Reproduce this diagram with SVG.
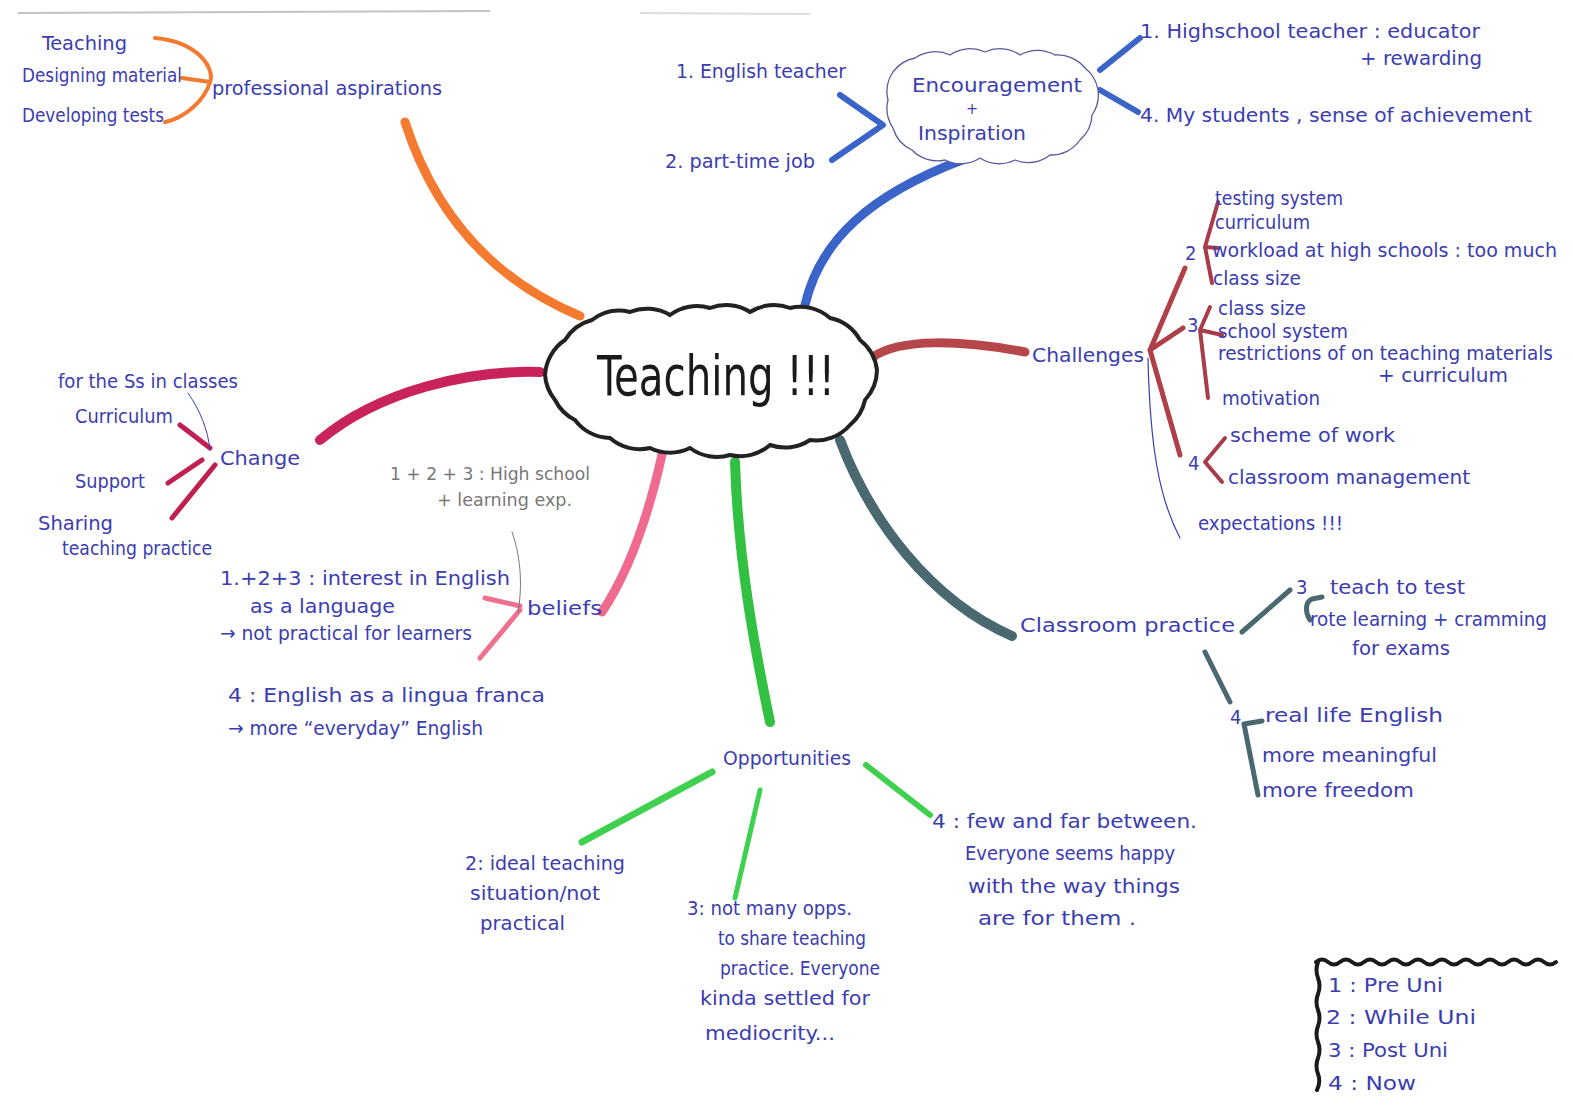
<svg xmlns="http://www.w3.org/2000/svg" width="1573" height="1111" viewBox="0 0 1573 1111">
<style>
.t{font-family:"Liberation Sans Narrow","DejaVu Sans Condensed","Liberation Sans",sans-serif;fill:#3b3db0;font-size:20px}
.g{font-family:"Liberation Sans Narrow","DejaVu Sans Condensed","Liberation Sans",sans-serif;fill:#777;font-size:17px}
.br{fill:none;stroke-linecap:round;stroke-linejoin:round}
.thin{fill:none;stroke-linecap:round}
</style>
<rect width="1573" height="1111" fill="#ffffff"/>
<g id="scan-edge">
<path d="M18,13 L490,11" stroke="#9a9a9a" stroke-width="2" opacity="0.6" fill="none"/>
<path d="M640,13 L810,14" stroke="#bbbbbb" stroke-width="2" opacity="0.5" fill="none"/>
</g>
<g id="connectors">
<path class="br" d="M405,122 Q450,262 580,316" stroke="#f47a30" stroke-width="9"/>
<path class="br" d="M805,305 C820,240 870,195 962,160" stroke="#3a64c8" stroke-width="9"/>
<path class="br" d="M873,357 C900,338 960,340 1025,352" stroke="#b5464a" stroke-width="9"/>
<path class="br" d="M540,372 C470,370 380,390 320,440" stroke="#c8245a" stroke-width="10"/>
<path class="br" d="M663,450 C650,510 630,570 602,612" stroke="#f06a90" stroke-width="9"/>
<path class="br" d="M735,462 C738,560 755,650 770,722" stroke="#32c042" stroke-width="10"/>
<path class="br" d="M840,440 C870,520 930,600 1012,636" stroke="#4a6870" stroke-width="10"/>
<path class="br" d="M155,38 C200,42 215,70 210,82 C205,100 185,118 165,122" stroke="#f47a30" stroke-width="4"/>
<path class="br" d="M182,78 L210,82" stroke="#f47a30" stroke-width="4"/>
<path class="br" d="M840,95 L883,125 L832,160" stroke="#3a64c8" stroke-width="6"/>
<path class="br" d="M1100,70 L1140,38" stroke="#3a64c8" stroke-width="6"/>
<path class="br" d="M1100,90 L1138,112" stroke="#3a64c8" stroke-width="6"/>
<path class="br" d="M1150,350 L1185,268 M1150,350 L1183,328 M1150,350 L1180,455" stroke="#b04048" stroke-width="5"/>
<path class="br" d="M1205,247 L1218,202 M1205,247 L1218,248 M1205,247 L1212,283" stroke="#a83c48" stroke-width="4"/>
<path class="br" d="M1200,330 L1210,307 M1200,330 L1222,335 M1200,330 L1208,398" stroke="#a83c48" stroke-width="4"/>
<path class="br" d="M1205,462 L1225,438 M1205,462 L1222,482" stroke="#a83c48" stroke-width="4"/>
<path class="thin" d="M1148,358 C1150,450 1160,500 1180,538" stroke="#3b3db0" stroke-width="1.2"/>
<path class="br" d="M180,425 L210,448 M168,483 L202,460 M172,518 L215,465" stroke="#c02050" stroke-width="5"/>
<path class="thin" d="M188,393 C200,410 208,430 210,450" stroke="#3b3db0" stroke-width="1"/>
<path class="br" d="M485,598 L520,606 M480,658 L520,610" stroke="#f07090" stroke-width="5"/>
<path class="thin" d="M512,532 C522,560 522,590 518,612" stroke="#777" stroke-width="1"/>
<path class="br" d="M712,772 L582,842" stroke="#40d050" stroke-width="7"/>
<path class="br" d="M760,790 L735,898" stroke="#40d050" stroke-width="5"/>
<path class="br" d="M866,765 L930,815" stroke="#40d050" stroke-width="6"/>
<path class="br" d="M1242,632 L1290,590 M1205,652 L1230,702" stroke="#4a6870" stroke-width="5"/>
<path class="br" d="M1322,597 L1312,599 C1305,602 1305,612 1310,620" stroke="#4a6870" stroke-width="5"/>
<path class="br" d="M1258,795 L1244,724 L1262,721" stroke="#4a6870" stroke-width="5"/>
</g>
<g id="node-center">
<path d="M545,375 A45,45 0 0 1 565,340 A45,45 0 0 1 592,320 A45,45 0 0 1 630,312 A45,45 0 0 1 670,315 A45,45 0 0 1 710,308 A45,45 0 0 1 750,312 A45,45 0 0 1 790,308 A45,45 0 0 1 830,318 A45,45 0 0 1 860,340 A45,45 0 0 1 877,370 A45,45 0 0 1 865,400 A45,45 0 0 1 850,425 A45,45 0 0 1 810,440 A45,45 0 0 1 770,445 A45,45 0 0 1 730,455 A45,45 0 0 1 690,448 A45,45 0 0 1 650,448 A45,45 0 0 1 610,438 A45,45 0 0 1 575,420 A45,45 0 0 1 555,400 A45,45 0 0 1 545,375 Z" fill="#fff" stroke="#222" stroke-width="4"/>
<text x="597" y="395" font-family="'Liberation Sans Narrow','DejaVu Sans Condensed',sans-serif" font-size="56" fill="#1a1a1a" textLength="238" lengthAdjust="spacingAndGlyphs">Teaching !!!</text>
</g>
<g id="node-professional">
<text class="t" x="42" y="50" textLength="85" lengthAdjust="spacingAndGlyphs">Teaching</text>
<text class="t" x="22" y="82" textLength="160" lengthAdjust="spacingAndGlyphs">Designing material</text>
<text class="t" x="22" y="122" textLength="142" lengthAdjust="spacingAndGlyphs">Developing tests</text>
<text class="t" x="212" y="95" font-size="22" textLength="230" lengthAdjust="spacingAndGlyphs">professional aspirations</text>
</g>
<g id="node-encouragement">
<path d="M888,100 A35,35 0 0 1 893,72 A35,35 0 0 1 915,58 A35,35 0 0 1 950,55 A35,35 0 0 1 985,52 A35,35 0 0 1 1020,55 A35,35 0 0 1 1055,55 A35,35 0 0 1 1085,68 A35,35 0 0 1 1098,90 A35,35 0 0 1 1092,115 A35,35 0 0 1 1080,140 A35,35 0 0 1 1050,155 A35,35 0 0 1 1015,160 A35,35 0 0 1 980,158 A35,35 0 0 1 945,160 A35,35 0 0 1 912,150 A35,35 0 0 1 893,128 A35,35 0 0 1 888,100 Z" fill="#fff" stroke="#5a5aa0" stroke-width="1.3"/>
<text class="t" font-size="24"><tspan x="912" y="92" textLength="170" lengthAdjust="spacingAndGlyphs">Encouragement</tspan><tspan x="966" y="114" font-size="16">+</tspan><tspan x="918" y="140" textLength="108" lengthAdjust="spacingAndGlyphs">Inspiration</tspan></text>
<text class="t" x="676" y="78" textLength="170" lengthAdjust="spacingAndGlyphs">1. English teacher</text>
<text class="t" x="665" y="168" textLength="150" lengthAdjust="spacingAndGlyphs">2. part-time job</text>
<text class="t" x="1140" y="38" textLength="340" lengthAdjust="spacingAndGlyphs">1. Highschool teacher : educator</text>
<text class="t" x="1360" y="65" textLength="122" lengthAdjust="spacingAndGlyphs">+ rewarding</text>
<text class="t" x="1140" y="122" textLength="392" lengthAdjust="spacingAndGlyphs">4. My students , sense of achievement</text>
</g>
<g id="node-challenges">
<text class="t" x="1032" y="362" font-size="22" textLength="112" lengthAdjust="spacingAndGlyphs">Challenges</text>
<text class="t" x="1185" y="260" font-size="18">2</text>
<text class="t" x="1215" y="205" font-size="15" textLength="128" lengthAdjust="spacingAndGlyphs">testing system</text>
<text class="t" x="1215" y="229" font-size="13" textLength="95" lengthAdjust="spacingAndGlyphs">curriculum</text>
<text class="t" x="1212" y="257" textLength="345" lengthAdjust="spacingAndGlyphs">workload at high schools : too much</text>
<text class="t" x="1213" y="285" font-size="18" textLength="88" lengthAdjust="spacingAndGlyphs">class size</text>
<text class="t" x="1187" y="332" font-size="18">3</text>
<text class="t" x="1218" y="315" font-size="18" textLength="88" lengthAdjust="spacingAndGlyphs">class size</text>
<text class="t" x="1218" y="338" font-size="18" textLength="130" lengthAdjust="spacingAndGlyphs">school system</text>
<text class="t" x="1218" y="360" font-size="19" textLength="335" lengthAdjust="spacingAndGlyphs">restrictions of on teaching materials</text>
<text class="t" x="1378" y="382" font-size="18" textLength="130" lengthAdjust="spacingAndGlyphs">+ curriculum</text>
<text class="t" x="1222" y="405" font-size="18" textLength="98" lengthAdjust="spacingAndGlyphs">motivation</text>
<text class="t" x="1188" y="470" font-size="20">4</text>
<text class="t" x="1230" y="442" textLength="165" lengthAdjust="spacingAndGlyphs">scheme of work</text>
<text class="t" x="1228" y="484" textLength="242" lengthAdjust="spacingAndGlyphs">classroom management</text>
<text class="t" x="1198" y="530" textLength="145" lengthAdjust="spacingAndGlyphs">expectations !!!</text>
</g>
<g id="node-change">
<text class="t" x="220" y="465" font-size="22" textLength="80" lengthAdjust="spacingAndGlyphs">Change</text>
<text class="t" x="58" y="388" font-size="16" textLength="180" lengthAdjust="spacingAndGlyphs">for the Ss in classes</text>
<text class="t" x="75" y="423" textLength="98" lengthAdjust="spacingAndGlyphs">Curriculum</text>
<text class="t" x="75" y="488" textLength="70" lengthAdjust="spacingAndGlyphs">Support</text>
<text class="t" x="38" y="530" textLength="75" lengthAdjust="spacingAndGlyphs">Sharing</text>
<text class="t" x="62" y="555" textLength="150" lengthAdjust="spacingAndGlyphs">teaching practice</text>
</g>
<g id="node-beliefs">
<text class="g" x="390" y="480" textLength="200" lengthAdjust="spacingAndGlyphs">1 + 2 + 3 : High school</text>
<text class="g" x="437" y="506" textLength="135" lengthAdjust="spacingAndGlyphs">+ learning exp.</text>
<text class="t" x="527" y="615" font-size="22" textLength="75" lengthAdjust="spacingAndGlyphs">beliefs</text>
<text class="t" x="220" y="585" font-size="22" textLength="290" lengthAdjust="spacingAndGlyphs">1.+2+3 : interest in English</text>
<text class="t" x="250" y="613" textLength="145" lengthAdjust="spacingAndGlyphs">as a language</text>
<text class="t" x="220" y="640" textLength="252" lengthAdjust="spacingAndGlyphs">→ not practical for learners</text>
<text class="t" x="228" y="702" font-size="22" textLength="317" lengthAdjust="spacingAndGlyphs">4 : English as a lingua franca</text>
<text class="t" x="228" y="735" textLength="255" lengthAdjust="spacingAndGlyphs">→ more “everyday” English</text>
</g>
<g id="node-opportunities">
<text class="t" x="723" y="765" font-size="24" textLength="128" lengthAdjust="spacingAndGlyphs">Opportunities</text>
<text class="t" x="465" y="870" textLength="160" lengthAdjust="spacingAndGlyphs">2: ideal teaching</text>
<text class="t" x="470" y="900" textLength="130" lengthAdjust="spacingAndGlyphs">situation/not</text>
<text class="t" x="480" y="930" textLength="85" lengthAdjust="spacingAndGlyphs">practical</text>
<text class="t" x="687" y="915" font-size="18" textLength="165" lengthAdjust="spacingAndGlyphs">3: not many opps.</text>
<text class="t" x="718" y="945" font-size="18" textLength="148" lengthAdjust="spacingAndGlyphs">to share teaching</text>
<text class="t" x="720" y="975" font-size="18" textLength="160" lengthAdjust="spacingAndGlyphs">practice. Everyone</text>
<text class="t" x="700" y="1005" font-size="18" textLength="170" lengthAdjust="spacingAndGlyphs">kinda settled for</text>
<text class="t" x="705" y="1040" font-size="18" textLength="130" lengthAdjust="spacingAndGlyphs">mediocrity...</text>
<text class="t" x="932" y="828" textLength="265" lengthAdjust="spacingAndGlyphs">4 : few and far between.</text>
<text class="t" x="965" y="860" textLength="210" lengthAdjust="spacingAndGlyphs">Everyone seems happy</text>
<text class="t" x="968" y="893" textLength="212" lengthAdjust="spacingAndGlyphs">with the way things</text>
<text class="t" x="978" y="925" textLength="158" lengthAdjust="spacingAndGlyphs">are for them .</text>
</g>
<g id="node-classroom">
<text class="t" x="1020" y="632" font-size="24" textLength="215" lengthAdjust="spacingAndGlyphs">Classroom practice</text>
<text class="t" x="1296" y="594" font-size="18">3</text>
<text class="t" x="1330" y="594" textLength="135" lengthAdjust="spacingAndGlyphs">teach to test</text>
<text class="t" x="1310" y="626" textLength="237" lengthAdjust="spacingAndGlyphs">rote learning + cramming</text>
<text class="t" x="1352" y="655" textLength="98" lengthAdjust="spacingAndGlyphs">for exams</text>
<text class="t" x="1230" y="724">4</text>
<text class="t" x="1265" y="722" textLength="178" lengthAdjust="spacingAndGlyphs">real life English</text>
<text class="t" x="1262" y="762" textLength="175" lengthAdjust="spacingAndGlyphs">more meaningful</text>
<text class="t" x="1262" y="797" textLength="152" lengthAdjust="spacingAndGlyphs">more freedom</text>
</g>
<g id="node-legend">
<path d="M1316,962 q6,-5 12,0 q6,5 12,0 q6,-5 12,0 q6,5 12,0 q6,-5 12,0 q6,5 12,0 q6,-5 12,0 q6,5 12,0 q6,-5 12,0 q6,5 12,0 q6,-5 12,0 q6,5 12,0 q6,-5 12,0 q6,5 12,0 q6,-5 12,0 q6,5 12,0 q6,-5 12,0 q6,5 12,0 q6,-5 12,0 q6,5 12,0" fill="none" stroke="#1a1a1a" stroke-width="4" stroke-linecap="round"/>
<path d="M1318,962 q-3,8 0,16 q3,8 0,16 q-3,8 0,16 q3,8 0,16 q-3,8 0,16 q3,8 0,16 q-3,8 0,16 q3,8 -1,16" fill="none" stroke="#1a1a1a" stroke-width="4" stroke-linecap="round"/>
<text class="t" x="1328" y="992" textLength="115" lengthAdjust="spacingAndGlyphs">1 : Pre Uni</text>
<text class="t" x="1326" y="1024" textLength="150" lengthAdjust="spacingAndGlyphs">2 : While Uni</text>
<text class="t" x="1328" y="1057" textLength="120" lengthAdjust="spacingAndGlyphs">3 : Post Uni</text>
<text class="t" x="1328" y="1090" textLength="88" lengthAdjust="spacingAndGlyphs">4 : Now</text>
</g>
</svg>
